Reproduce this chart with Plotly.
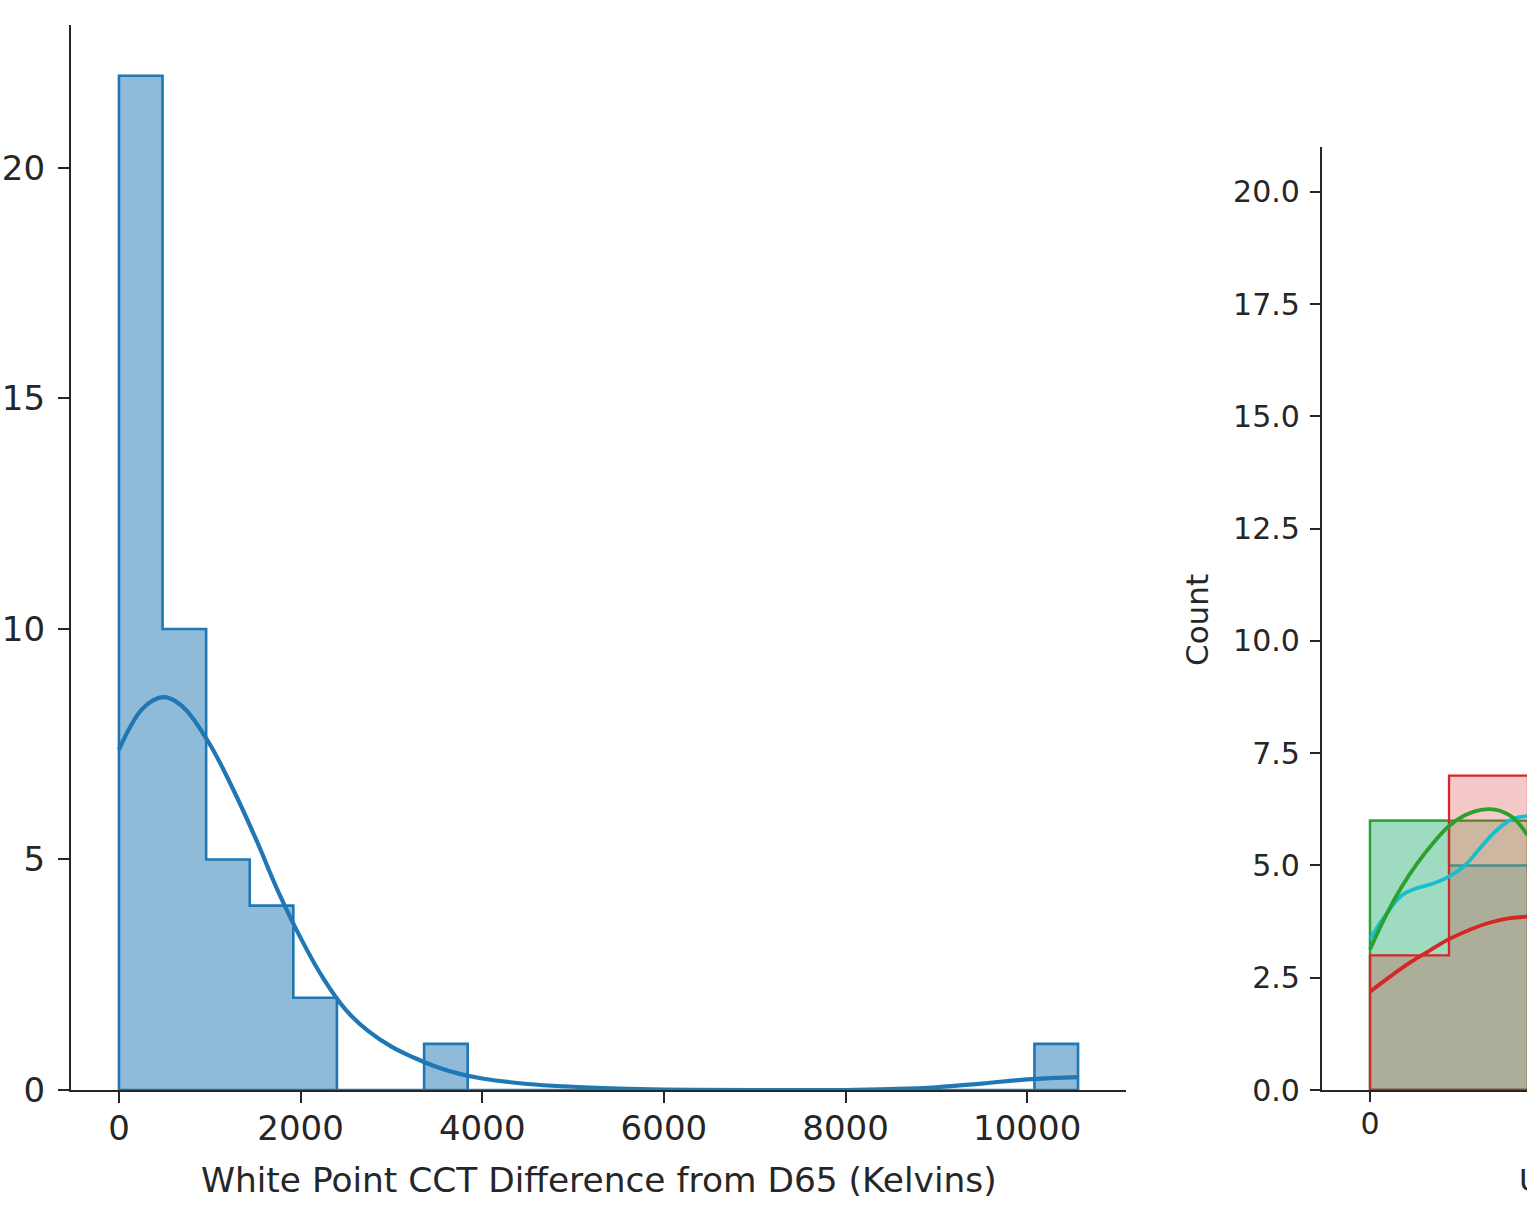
import numpy as np
import plotly.graph_objects as go

W, H = 1527, 1212

# ---------------- Left panel: CCT difference histogram ----------------
cct_bin_width = 480
cct_counts = [22, 10, 5, 4, 2, 0, 0, 1, 0, 0, 0, 0, 0, 0, 0, 0, 0, 0, 0, 0, 0, 1]
cct_kde_x = [0, 125, 250, 375, 500, 625, 750, 1000, 1250, 1500, 1750, 2000, 2250,
             2500, 2750, 3000, 3250, 3500, 3750, 4000, 4500, 5000, 5500, 6000, 7000,
             8000, 8500, 9000, 9500, 10000, 10560]
cct_kde_y = [7.38, 7.88, 8.25, 8.45, 8.52, 8.43, 8.22, 7.50, 6.55, 5.48, 4.32, 3.30,
             2.42, 1.73, 1.27, 0.94, 0.70, 0.50, 0.35, 0.25, 0.13, 0.07, 0.03, 0.01,
             0.0, 0.0, 0.02, 0.06, 0.14, 0.23, 0.28]
cct_xticks = [0, 2000, 4000, 6000, 8000, 10000]
cct_xticklabels = ["0", "2000", "4000", "6000", "8000", "10000"]
cct_yticks = [0, 5, 10, 15, 20]
cct_xlabel = "White Point CCT Difference from D65 (Kelvins)"

# ---------------- Right panel (partly visible) ----------------
u_bin_width = 1.0
u_counts_cyan = [6, 5]
u_counts_green = [6, 6]
u_counts_red = [3, 7]
u_kde_cyan_x = [0.0, 0.2, 0.4, 0.6, 0.8, 1.0, 1.2, 1.4, 1.6, 1.8, 1.99]
u_kde_cyan_y = [3.36, 3.90, 4.33, 4.50, 4.60, 4.75, 5.00, 5.40, 5.78, 6.03, 6.10]
u_kde_green_x = [0.0, 0.2, 0.4, 0.6, 0.8, 1.0, 1.2, 1.4, 1.6, 1.8, 1.99]
u_kde_green_y = [3.13, 3.88, 4.52, 5.05, 5.50, 5.88, 6.12, 6.24, 6.24, 6.08, 5.68]
u_kde_red_x = [0.0, 0.25, 0.5, 0.75, 1.0, 1.25, 1.5, 1.75, 1.99]
u_kde_red_y = [2.19, 2.52, 2.83, 3.10, 3.36, 3.56, 3.72, 3.82, 3.86]
u_xticks = [0]
u_yticks = [0, 2.5, 5, 7.5, 10, 12.5, 15, 17.5, 20]
u_ylabel = "Count"
u_xlabel = "U"


def step_polygon(edges, counts):
    xs, ys = [edges[0]], [0]
    for i, c in enumerate(counts):
        xs += [edges[i], edges[i + 1]]
        ys += [c, c]
    xs += [edges[-1], edges[0]]
    ys += [0, 0]
    return xs, ys


TEXT = "#262626"
FONT = "DejaVu Sans"

fig = go.Figure()

# Left histogram
edges = [i * cct_bin_width for i in range(len(cct_counts) + 1)]
px_, py_ = step_polygon(edges, cct_counts)
fig.add_trace(go.Scatter(x=px_, y=py_, mode="lines", fill="toself",
                         fillcolor="rgba(31,119,180,0.5)",
                         line=dict(color="#1f77b4", width=2.6),
                         xaxis="x", yaxis="y", showlegend=False, hoverinfo="skip"))
fig.add_trace(go.Scatter(x=cct_kde_x, y=cct_kde_y, mode="lines",
                         line=dict(color="#1f77b4", width=4.2, shape="spline", smoothing=1.2),
                         xaxis="x", yaxis="y", showlegend=False, hoverinfo="skip"))

# Right histograms (layered)
u_edges = [i * u_bin_width for i in range(3)]
for counts, col in [(u_counts_cyan, (23, 190, 207)),
                    (u_counts_green, (44, 160, 44)),
                    (u_counts_red, (214, 39, 40))]:
    qx, qy = step_polygon(u_edges, counts)
    fig.add_trace(go.Scatter(x=qx, y=qy, mode="lines", fill="toself",
                             fillcolor="rgba(%d,%d,%d,0.25)" % col,
                             line=dict(color="rgb(%d,%d,%d)" % col, width=2.3),
                             xaxis="x2", yaxis="y2", showlegend=False, hoverinfo="skip"))
for kx, ky, col in [(u_kde_cyan_x, u_kde_cyan_y, "#17becf"),
                    (u_kde_green_x, u_kde_green_y, "#2ca02c"),
                    (u_kde_red_x, u_kde_red_y, "#d62728")]:
    fig.add_trace(go.Scatter(x=kx, y=ky, mode="lines",
                             line=dict(color=col, width=3.8, shape="spline", smoothing=1.2),
                             xaxis="x2", yaxis="y2", showlegend=False, hoverinfo="skip"))

ybot = (H - 1090) / H
axis_common = dict(showline=True, linecolor=TEXT, linewidth=2.2, ticks="outside",
                   tickcolor=TEXT, tickwidth=2.2, showgrid=False, zeroline=False,
                   automargin=False, fixedrange=True)

fig.update_layout(
    width=W, height=H,
    margin=dict(l=0, r=0, t=0, b=0),
    paper_bgcolor="white", plot_bgcolor="white",
    font=dict(family=FONT, color=TEXT),
    xaxis=dict(domain=[71 / W, 1126 / W], range=[-528, 11088], anchor="y",
               tickvals=cct_xticks, ticktext=cct_xticklabels, ticklen=11,
               tickfont=dict(size=34), ticklabelstandoff=-4, **axis_common),
    yaxis=dict(domain=[ybot, (H - 25) / H], range=[0, 23.1], anchor="x",
               tickvals=cct_yticks, ticklen=11, tickfont=dict(size=34),
               ticklabelstandoff=6, **axis_common),
    xaxis2=dict(domain=[1322 / W, 1.0], range=[(1322 - 1370) / 79, (1527 - 1370) / 79],
                anchor="y2", tickvals=u_xticks, ticklen=10, tickfont=dict(size=30),
                ticklabelstandoff=-4, **axis_common),
    yaxis2=dict(domain=[ybot, (H - 147) / H], range=[0, 21], anchor="x2",
                tickvals=u_yticks, ticktext=["%.1f" % v for v in u_yticks],
                ticklen=10, tickfont=dict(size=30), ticklabelstandoff=4, **axis_common),
    annotations=[
        dict(text=cct_xlabel, xref="paper", yref="paper",
             x=598.5 / W, y=(H - 1180) / H, xanchor="center", yanchor="middle",
             showarrow=False, font=dict(size=34.4, color=TEXT, family=FONT)),
        dict(text=u_ylabel, xref="paper", yref="paper", textangle=-90,
             x=1197 / W, y=(H - 620) / H, xanchor="center", yanchor="middle",
             showarrow=False, font=dict(size=31, color=TEXT, family=FONT)),
        dict(text=u_xlabel, xref="paper", yref="paper",
             x=1517 / W, y=(H - 1180) / H, xanchor="left", yanchor="middle",
             showarrow=False, font=dict(size=31, color=TEXT, family=FONT)),
    ],
)

fig.write_html("out.html", config={"displayModeBar": False})
